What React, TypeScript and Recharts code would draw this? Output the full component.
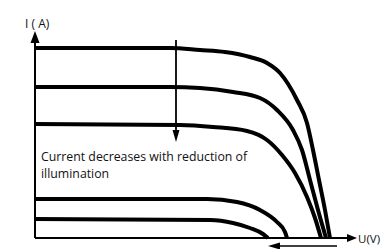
import { LineChart, Line, XAxis, YAxis, ReferenceLine, ReferenceDot } from 'recharts'

// I-V curves of a solar cell at falling illumination (U in V, I in A)
const curve1U = [0, 13.5, 16.5, 19, 21.5, 23.2, 24.5, 26.2, 27.2, 27.8, 28.4, 29, 29.5]
const curve1I = [19, 19, 18.8, 18.6, 18.1, 17.5, 16.5, 13.8, 11.5, 8.8, 5.8, 2.8, 0]
const curve2U = [0, 13.5, 16.5, 19.8, 22.5, 24.2, 25.8, 26.7, 27.5, 28.3, 29.1]
const curve2I = [15.1, 15.1, 15, 14.6, 14, 12.8, 10.8, 8.8, 5.8, 2.8, 0]
const curve3U = [0, 14.5, 17.8, 21.2, 23.2, 24.7, 26, 27.2, 28, 28.6]
const curve3I = [11.4, 11.3, 11.1, 10.7, 9.8, 8.3, 6.5, 4.1, 2, 0]
const curve4U = [0, 17.2, 20.2, 22.5, 24.2, 25, 25.2]
const curve4I = [3.9, 3.9, 3.6, 2.8, 1.6, 0.6, 0]
const curve5U = [0, 17.5, 19.8, 21.5, 22.8, 23.3]
const curve5I = [1.9, 1.8, 1.5, 1, 0.4, 0]

const yLabel = 'I ( A)'
const xLabel = 'U(V)'
const noteLines = ['Current decreases with reduction of', 'illumination']

const curves = [
  [curve1U, curve1I],
  [curve2U, curve2I],
  [curve3U, curve3I],
  [curve4U, curve4I],
  [curve5U, curve5I],
].map(([u, i]) => u.map((x, k) => ({ u: x, i: i[k] })))

const FONT = '"Open Sans", sans-serif'

const arrowUp = (w: number, h: number) => (p: any) => (
  <polygon points={`${p.cx},${p.cy} ${p.cx - w},${p.cy + h} ${p.cx + w},${p.cy + h}`} fill="#000" />
)
const arrowDown = (w: number, h: number) => (p: any) => (
  <polygon points={`${p.cx},${p.cy} ${p.cx - w},${p.cy - h} ${p.cx + w},${p.cy - h}`} fill="#000" />
)
const arrowRight = (w: number, h: number) => (p: any) => (
  <polygon points={`${p.cx},${p.cy} ${p.cx - h},${p.cy - w} ${p.cx - h},${p.cy + w}`} fill="#000" />
)
const arrowLeft = (w: number, h: number) => (p: any) => (
  <polygon points={`${p.cx},${p.cy} ${p.cx + h},${p.cy - w} ${p.cx + h},${p.cy + w}`} fill="#000" />
)
const textAt = (s: string, size: number) => (p: any) => (
  <text x={p.cx} y={p.cy} fontFamily={FONT} fontSize={size} fill="#111" dominantBaseline="central">{s}</text>
)

export default function App() {
  return (
    <LineChart width={382} height={241} margin={{ top: 0, right: 0, bottom: 0, left: 0 }}>
      <XAxis type="number" dataKey="u" domain={[-2.7, 35.5]} allowDataOverflow hide />
      <YAxis type="number" dataKey="i" domain={[-1.1, 23]} allowDataOverflow hide />

      {/* axes */}
      <ReferenceLine segment={[{ x: 0, y: 0 }, { x: 0, y: 19.6 }]} stroke="#000" strokeWidth={2} ifOverflow="visible" />
      <ReferenceLine segment={[{ x: 0, y: 0 }, { x: 31.3, y: 0 }]} stroke="#000" strokeWidth={2} ifOverflow="visible" />
      <ReferenceDot x={0} y={20.7} shape={arrowUp(4.5, 12)} ifOverflow="visible" />
      <ReferenceDot x={32.2} y={0} shape={arrowRight(4, 10)} ifOverflow="visible" />

      {curves.map((d, k) => (
        <Line key={k} data={d} dataKey="i" type="monotone" stroke="#000" strokeWidth={4} dot={false} activeDot={false} isAnimationActive={false} />
      ))}

      {/* annotation arrows */}
      <ReferenceLine segment={[{ x: 14.1, y: 19.8 }, { x: 14.1, y: 10.8 }]} stroke="#000" strokeWidth={1.8} ifOverflow="visible" />
      <ReferenceDot x={14.1} y={9.6} shape={arrowDown(3.5, 12)} ifOverflow="visible" />
      <ReferenceLine segment={[{ x: 30.2, y: -0.8 }, { x: 24.4, y: -0.8 }]} stroke="#000" strokeWidth={1.5} ifOverflow="visible" />
      <ReferenceDot x={23.3} y={-0.8} shape={arrowLeft(3.5, 12)} ifOverflow="visible" />

      {/* text */}
      <ReferenceDot x={-1} y={21.5} shape={textAt(yLabel, 12)} ifOverflow="visible" />
      <ReferenceDot x={32.3} y={0} shape={textAt(xLabel, 11.5)} ifOverflow="visible" />
      <ReferenceDot x={0.6} y={8.2} shape={textAt(noteLines[0], 12.3)} ifOverflow="visible" />
      <ReferenceDot x={0.6} y={6.5} shape={textAt(noteLines[1], 12.3)} ifOverflow="visible" />
    </LineChart>
  )
}
